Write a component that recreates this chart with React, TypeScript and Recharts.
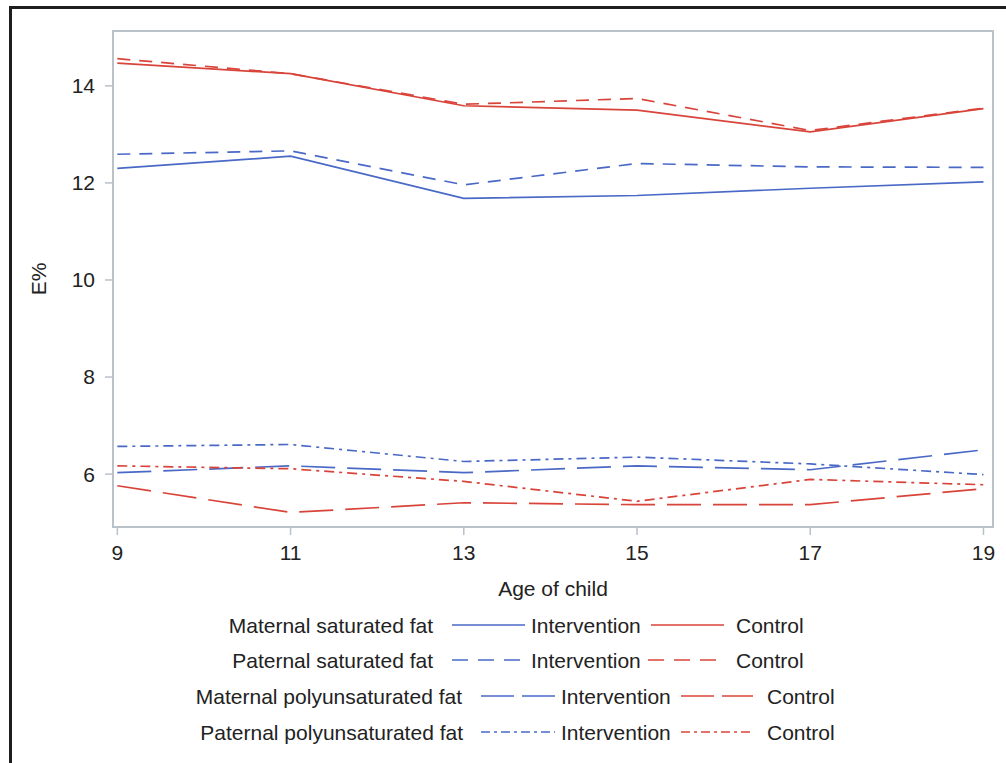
import { LineChart, Line, XAxis, YAxis, ReferenceArea } from "recharts";

const ages = [9, 11, 13, 15, 17, 19];

const matSatInt = [12.3, 12.55, 11.68, 11.74, 11.89, 12.02];
const matSatCtl = [14.47, 14.25, 13.59, 13.5, 13.05, 13.53];
const patSatInt = [12.59, 12.66, 11.96, 12.4, 12.33, 12.32];
const patSatCtl = [14.56, 14.25, 13.62, 13.74, 13.08, 13.54];
const matPufaInt = [6.03, 6.17, 6.03, 6.17, 6.09, 6.5];
const matPufaCtl = [5.76, 5.21, 5.41, 5.37, 5.37, 5.7];
const patPufaInt = [6.57, 6.61, 6.26, 6.35, 6.21, 5.99];
const patPufaCtl = [6.17, 6.11, 5.85, 5.44, 5.89, 5.78];

const xTicks = [9, 11, 13, 15, 17, 19];
const yTicks = [6, 8, 10, 12, 14];

const BLUE = "#4a69c6";
const RED = "#d9443a";
const FRAME = "#b9c1c9";
const TEXT = "#222";
const LW = 1.7;

const data = ages.map((age, i) => ({
  age,
  matSatInt: matSatInt[i],
  matSatCtl: matSatCtl[i],
  patSatInt: patSatInt[i],
  patSatCtl: patSatCtl[i],
  matPufaInt: matPufaInt[i],
  matPufaCtl: matPufaCtl[i],
  patPufaInt: patPufaInt[i],
  patPufaCtl: patPufaCtl[i],
}));

const dashes = {
  solid: undefined,
  dash: "13 9",
  longDash: "34 12",
  dashDot: "10 5 3 5",
};

const legendDashes = {
  solid: undefined,
  dash: "16 10",
  longDash: "33 8",
  dashDot: "9 4 3 4",
};

type Row = {
  label: string;
  dash: keyof typeof dashes;
  y: number;
  labelEnd: number;
  l1: [number, number];
  t1: number;
  l2: [number, number];
  t2: number;
};

const legendRows: Row[] = [
  { label: "Maternal saturated fat", dash: "solid", y: 625, labelEnd: 433, l1: [452, 525], t1: 531, l2: [651, 724], t2: 736 },
  { label: "Paternal saturated fat", dash: "dash", y: 660, labelEnd: 433, l1: [452, 520], t1: 531, l2: [648, 720], t2: 736 },
  { label: "Maternal polyunsaturated fat", dash: "longDash", y: 696, labelEnd: 462, l1: [481, 555], t1: 561, l2: [681, 753], t2: 767 },
  { label: "Paternal polyunsaturated fat", dash: "dashDot", y: 732, labelEnd: 463, l1: [481, 555], t1: 561, l2: [681, 753], t2: 767 },
];

const tickStyle = { fill: TEXT, fontSize: 21, fontFamily: "Liberation Sans, Arial, sans-serif" };

function YLabel() {
  return (
    <text
      x={38}
      y={279}
      transform="rotate(-90 38 279)"
      textAnchor="middle"
      dominantBaseline="central"
      fill={TEXT}
      fontSize={21}
      fontFamily="Liberation Sans, Arial, sans-serif"
    >
      E%
    </text>
  );
}

export default function App() {
  return (
    <div
      style={{
        position: "absolute",
        left: 0,
        top: 0,
        width: 1006,
        height: 763,
        background: "#fff",
        overflow: "hidden",
        fontFamily: "Liberation Sans, Arial, sans-serif",
      }}
    >
      <div style={{ position: "absolute", left: 9, top: 6, width: 997, height: 2.5, background: "#1e1e1e" }} />
      <div style={{ position: "absolute", left: 9, top: 6, width: 2.5, height: 757, background: "#1e1e1e" }} />
      <div style={{ position: "absolute", left: 0, top: 0 }}>
        <LineChart width={1006} height={600} data={data} margin={{ top: 31, right: 13, bottom: 0, left: 0 }}>
          <XAxis
            dataKey="age"
            type="number"
            domain={[8.95, 19.11]}
            ticks={xTicks}
            allowDataOverflow
            height={73}
            axisLine={false}
            tickLine={{ stroke: FRAME, strokeWidth: 1.5 }}
            tickSize={8}
            tickMargin={10}
            tick={tickStyle}
            label={{ value: "Age of child", position: "insideBottom", offset: 4, fill: TEXT, fontSize: 21 }}
          />
          <YAxis
            type="number"
            domain={[4.91, 15.13]}
            ticks={yTicks}
            allowDataOverflow
            width={113}
            axisLine={false}
            tickLine={{ stroke: FRAME, strokeWidth: 1.5 }}
            tickSize={8}
            tickMargin={10}
            tick={tickStyle}
            label={<YLabel />}
          />
          <ReferenceArea x1={8.95} x2={19.11} y1={4.91} y2={15.13} fill="none" stroke={FRAME} strokeWidth={2} />
          <Line dataKey="matSatInt" stroke={BLUE} strokeWidth={LW} dot={false} isAnimationActive={false} />
          <Line dataKey="matSatCtl" stroke={RED} strokeWidth={LW} dot={false} isAnimationActive={false} />
          <Line dataKey="patSatInt" stroke={BLUE} strokeWidth={LW} strokeDasharray={dashes.dash} dot={false} isAnimationActive={false} />
          <Line dataKey="patSatCtl" stroke={RED} strokeWidth={LW} strokeDasharray={dashes.dash} dot={false} isAnimationActive={false} />
          <Line dataKey="matPufaInt" stroke={BLUE} strokeWidth={LW} strokeDasharray={dashes.longDash} dot={false} isAnimationActive={false} />
          <Line dataKey="matPufaCtl" stroke={RED} strokeWidth={LW} strokeDasharray={dashes.longDash} dot={false} isAnimationActive={false} />
          <Line dataKey="patPufaInt" stroke={BLUE} strokeWidth={LW} strokeDasharray={dashes.dashDot} dot={false} isAnimationActive={false} />
          <Line dataKey="patPufaCtl" stroke={RED} strokeWidth={LW} strokeDasharray={dashes.dashDot} dot={false} isAnimationActive={false} />
        </LineChart>
      </div>
      <svg width={1006} height={763} style={{ position: "absolute", left: 0, top: 0, pointerEvents: "none" }}>
        {legendRows.map((r) => (
          <g key={r.label} fontSize={21} fill={TEXT} fontFamily="Liberation Sans, Arial, sans-serif">
            <text x={r.labelEnd} y={r.y} textAnchor="end" dominantBaseline="central">
              {r.label}
            </text>
            <line x1={r.l1[0]} x2={r.l1[1]} y1={r.y} y2={r.y} stroke={BLUE} strokeWidth={LW} strokeDasharray={legendDashes[r.dash]} />
            <text x={r.t1} y={r.y} dominantBaseline="central">
              Intervention
            </text>
            <line x1={r.l2[0]} x2={r.l2[1]} y1={r.y} y2={r.y} stroke={RED} strokeWidth={LW} strokeDasharray={legendDashes[r.dash]} />
            <text x={r.t2} y={r.y} dominantBaseline="central">
              Control
            </text>
          </g>
        ))}
      </svg>
    </div>
  );
}
